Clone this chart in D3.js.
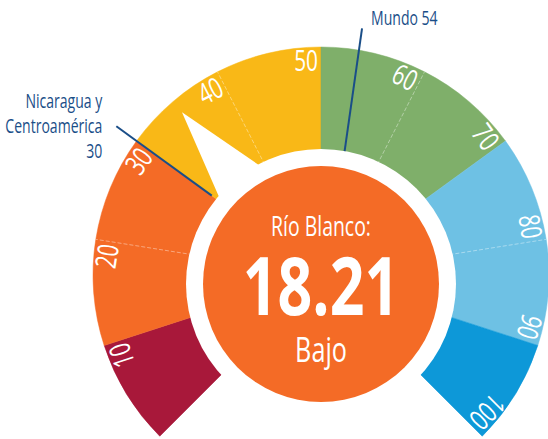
<!DOCTYPE html>
<html>
<head>
<meta charset="utf-8">
<script src="https://cdn.jsdelivr.net/npm/d3@7"></script>
<style>
  body { margin: 0; background: #fff; }
  svg { display: block; }
</style>
</head>
<body>
<div id="gauge-chart"></div>
<script>
// colour bands of the gauge
const bandStarts = [0, 10, 30, 50, 70, 90];
const bandEnds = [10, 30, 50, 70, 90, 100];
const bandColors = ["#A8183A", "#F46B26", "#F9B817", "#7FAF6A", "#6EC1E4", "#0D98D8"];

const tickValues = [10, 20, 30, 40, 50, 60, 70, 80, 90, 100];
const dividerValues = [20, 40, 60, 80];

// reference markers
const refNames = ["Mundo 54", "Nicaragua y|Centroamérica|30"];
const refValues = [54, 30];

const localName = "Río Blanco:";
const localValue = 18.21;
const localLevel = "Bajo";
const pointerValue = 35;

const width = 548, height = 439;
const cx = 321, cy = 275;          // gauge centre
const outerR = 228, innerR = 100;
const ringCy = 284, ringR = 135, discR = 118;
const FONT = "'Open Sans', 'Noto Sans', sans-serif";
const squeeze = 0.72;              // mimic a condensed face
const navy = "#1A4E88";

const angle = d3.scaleLinear().domain([0, 100]).range([-135, 135]);
const rad = v => angle(v) * Math.PI / 180;
const polar = (v, r) => [cx + r * Math.sin(rad(v)), cy - r * Math.cos(rad(v))];

const svg = d3.select("#gauge-chart")
    .append("svg")
    .attr("width", width)
    .attr("height", height);

const g = svg.append("g").attr("transform", `translate(${cx},${cy})`);

const arc = d3.arc().innerRadius(innerR).outerRadius(outerR);

g.selectAll("path.band")
    .data(bandStarts)
    .enter()
    .append("path")
    .attr("class", "band")
    .attr("d", (d, i) => arc({ startAngle: rad(d), endAngle: rad(bandEnds[i]) }))
    .attr("fill", (d, i) => bandColors[i])
    .attr("stroke", (d, i) => bandColors[i])
    .attr("stroke-width", 0.5);

// thin dashed dividers inside bands
g.selectAll("line.divider")
    .data(dividerValues)
    .enter()
    .append("line")
    .attr("x1", d => innerR * Math.sin(rad(d)))
    .attr("y1", d => -innerR * Math.cos(rad(d)))
    .attr("x2", d => outerR * Math.sin(rad(d)))
    .attr("y2", d => -outerR * Math.cos(rad(d)))
    .attr("stroke", "#fff")
    .attr("stroke-opacity", 0.5)
    .attr("stroke-width", 0.8)
    .attr("stroke-dasharray", "4,2");

// tick labels along the outer edge
g.selectAll("text.tick")
    .data(tickValues)
    .enter()
    .append("text")
    .attr("transform", d => `rotate(${angle(d)}) translate(-3,-204) scale(${squeeze},1)`)
    .attr("text-anchor", "end")
    .attr("fill", "#fff")
    .attr("font-family", FONT)
    .attr("font-size", "29px")
    .text(d => d);

// white ring and speech-bubble pointer
const ringPoint = (deg, r) => [cx + r * Math.sin(deg * Math.PI / 180), ringCy - r * Math.cos(deg * Math.PI / 180)];
const tip = polar(pointerValue, 214);
svg.append("polygon")
    .attr("points", [tip, ringPoint(-52.8, 120), ringPoint(-23.9, 120)].map(p => p.join(",")).join(" "))
    .attr("fill", "#fff");

svg.append("circle")
    .attr("cx", cx).attr("cy", ringCy).attr("r", ringR)
    .attr("fill", "#fff");

svg.append("circle")
    .attr("cx", cx).attr("cy", ringCy).attr("r", discR)
    .attr("fill", bandColors[1]);

// reference lines
const mundoIn = polar(refValues[0], 126), mundoOut = polar(refValues[0] - 0.5, 250);
svg.append("line")
    .attr("x1", mundoIn[0]).attr("y1", mundoIn[1])
    .attr("x2", mundoOut[0]).attr("y2", mundoOut[1])
    .attr("stroke", navy).attr("stroke-width", 2);
svg.append("text")
    .attr("transform", `translate(${mundoOut[0] + 9},${mundoOut[1] - 3}) scale(${squeeze},1)`)
    .attr("fill", navy)
    .attr("font-family", FONT)
    .attr("font-size", "19.5px")
    .text(refNames[0]);

const nicIn = polar(refValues[1], 135), nicOut = polar(refValues[1], 253);
svg.append("line")
    .attr("x1", nicIn[0]).attr("y1", nicIn[1])
    .attr("x2", nicOut[0]).attr("y2", nicOut[1])
    .attr("stroke", navy).attr("stroke-width", 2);
svg.append("g")
    .selectAll("text")
    .data(refNames[1].split("|"))
    .enter()
    .append("text")
    .attr("transform", (d, i) => `translate(${nicOut[0] - 14},${nicOut[1] - 18 + i * 25}) scale(${squeeze},1)`)
    .attr("text-anchor", "end")
    .attr("fill", navy)
    .attr("font-family", FONT)
    .attr("font-size", "19.5px")
    .text(d => d);

// centre text
const centre = svg.append("g").attr("text-anchor", "middle").attr("fill", "#fff").attr("font-family", FONT);
centre.append("text").attr("transform", `translate(${cx},236) scale(${squeeze},1)`)
    .attr("font-size", "27px").text(localName);
centre.append("text").attr("transform", `translate(${cx},315) scale(0.76,1)`)
    .attr("font-size", "80px").attr("font-weight", "bold")
    .text(d3.format(".2f")(localValue));
centre.append("text").attr("transform", `translate(${cx},362) scale(${squeeze},1)`)
    .attr("font-size", "35px").text(localLevel);
</script>
</body>
</html>
